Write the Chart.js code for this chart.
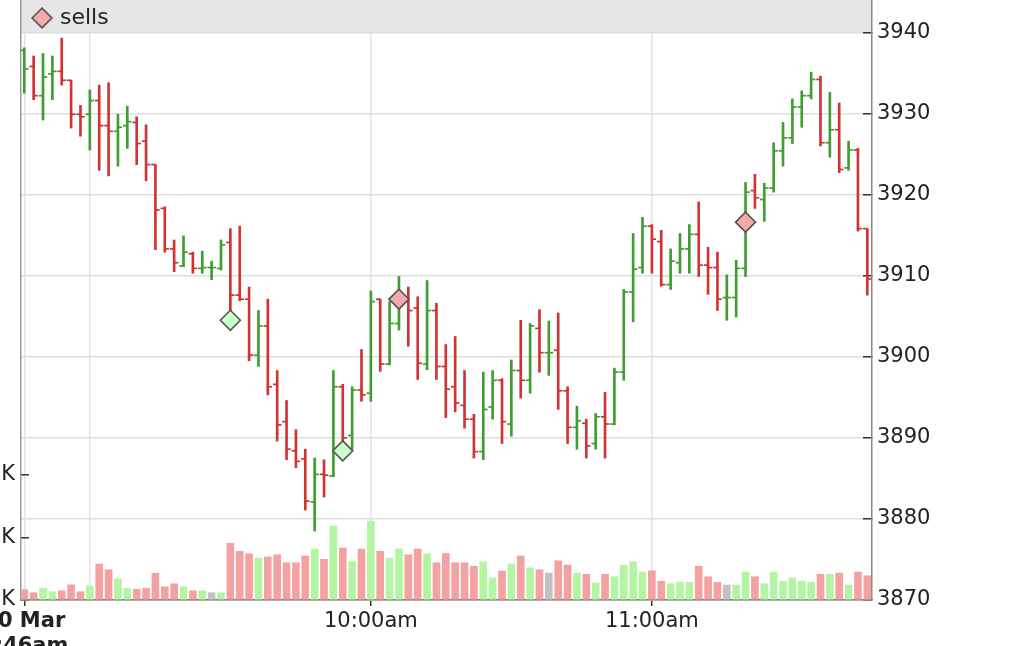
<!DOCTYPE html>
<html>
<head>
<meta charset="utf-8">
<script src="https://cdn.jsdelivr.net/npm/chart.js@4.4.1/dist/chart.umd.min.js"></script>
<style>
  html, body { margin: 0; padding: 0; background: #fff; }
  #wrap { width: 1016px; height: 646px; }
</style>
</head>
<body>
<div id="wrap"><canvas id="chart" width="1016" height="646"></canvas></div>
<script>
'use strict';

// 2-minute bars, 10 Mar 8:46am .. 11:46am
var open = [3937.8, 3935.8, 3932.2, 3934.9, 3935.2, 3934.1, 3929.9, 3929.9, 3931.6, 3928.5,
  3927.8, 3928.5, 3928.9, 3926.6, 3923.7, 3918.3, 3913.3, 3911.2, 3912.7, 3910.9,
  3911.0, 3910.9, 3914.1, 3907.6, 3907.1, 3900.2, 3903.8, 3896.6, 3892.0, 3888.4,
  3887.4, 3882.1, 3885.5, 3885.3, 3896.3, 3890.3, 3895.9, 3895.5, 3907.1, 3899.1,
  3904.1, 3907.1, 3906.0, 3899.1, 3905.7, 3898.8, 3896.3, 3894.0, 3892.3, 3888.3,
  3893.8, 3897.1, 3891.7, 3898.3, 3897.1, 3903.5, 3900.5, 3900.8, 3895.8, 3891.3,
  3891.8, 3889.3, 3892.6, 3891.7, 3898.1, 3908.0, 3911.0, 3916.1, 3914.2, 3908.9,
  3911.6, 3913.3, 3915.1, 3911.3, 3911.0, 3907.3, 3907.3, 3910.9, 3920.5, 3919.4,
  3920.8, 3925.4, 3927.0, 3930.8, 3932.2, 3934.2, 3926.4, 3928.0, 3923.3, 3925.5,
  3915.8];

var high = [3938.1, 3937.1, 3937.4, 3937.1, 3939.3, 3934.1, 3931.0, 3932.9, 3933.5, 3933.8,
  3929.9, 3930.9, 3929.6, 3928.6, 3923.7, 3918.5, 3914.4, 3914.9, 3912.9, 3913.0,
  3911.8, 3914.4, 3915.8, 3916.1, 3908.6, 3905.7, 3907.1, 3898.3, 3894.6, 3891.0,
  3888.6, 3887.5, 3887.3, 3898.3, 3896.6, 3896.3, 3900.9, 3908.1, 3907.1, 3906.8,
  3909.9, 3908.6, 3907.4, 3909.4, 3906.6, 3901.5, 3902.5, 3898.3, 3892.9, 3898.1,
  3898.3, 3897.3, 3899.6, 3904.5, 3904.1, 3905.8, 3904.4, 3905.4, 3896.3, 3893.9,
  3892.3, 3893.0, 3895.6, 3898.6, 3908.3, 3915.2, 3917.2, 3916.3, 3915.6, 3913.3,
  3915.2, 3916.3, 3919.1, 3913.5, 3912.9, 3910.1, 3911.9, 3921.5, 3922.5, 3921.4,
  3926.4, 3928.9, 3931.8, 3932.8, 3935.1, 3934.6, 3932.6, 3931.3, 3926.6, 3925.7,
  3915.8];

var low = [3932.5, 3931.7, 3929.2, 3931.7, 3933.5, 3928.2, 3927.2, 3925.5, 3923.0, 3922.3,
  3923.5, 3925.7, 3923.7, 3921.7, 3913.2, 3912.9, 3910.5, 3911.1, 3910.3, 3910.3,
  3909.5, 3910.7, 3905.7, 3906.9, 3899.5, 3898.8, 3895.3, 3889.6, 3887.3, 3886.3,
  3881.1, 3878.5, 3882.7, 3885.2, 3889.2, 3888.6, 3894.5, 3894.5, 3898.2, 3899.0,
  3903.3, 3901.3, 3897.2, 3898.4, 3897.2, 3892.5, 3893.2, 3891.2, 3887.5, 3887.3,
  3892.3, 3889.3, 3890.2, 3894.9, 3895.5, 3898.1, 3897.7, 3893.5, 3889.3, 3888.6,
  3887.5, 3888.6, 3887.5, 3891.6, 3897.1, 3904.3, 3910.3, 3910.3, 3908.7, 3908.3,
  3910.3, 3910.3, 3909.9, 3907.7, 3905.7, 3904.5, 3904.9, 3909.9, 3918.3, 3916.7,
  3920.3, 3923.5, 3926.3, 3928.3, 3931.8, 3926.0, 3924.6, 3922.7, 3923.0, 3915.5,
  3907.6];

var close = [3935.5, 3932.2, 3934.5, 3935.2, 3934.1, 3929.9, 3929.6, 3931.6, 3928.5, 3927.8,
  3928.3, 3929.0, 3926.3, 3923.7, 3918.1, 3913.3, 3911.6, 3912.9, 3910.9, 3911.0,
  3911.0, 3913.8, 3907.6, 3907.1, 3900.2, 3903.8, 3896.3, 3891.6, 3888.6, 3887.1,
  3882.2, 3885.5, 3885.4, 3896.3, 3890.0, 3895.9, 3895.3, 3906.8, 3899.1, 3904.1,
  3907.1, 3905.7, 3899.2, 3905.7, 3898.8, 3896.0, 3894.3, 3892.3, 3888.3, 3893.5,
  3897.1, 3892.0, 3898.3, 3897.1, 3903.8, 3900.5, 3900.5, 3895.8, 3891.3, 3892.1,
  3889.0, 3892.6, 3891.7, 3898.1, 3908.0, 3910.8, 3916.1, 3914.5, 3908.9, 3911.8,
  3913.3, 3915.1, 3911.3, 3911.0, 3907.1, 3907.3, 3910.9, 3920.3, 3919.6, 3920.8,
  3925.4, 3927.0, 3930.8, 3932.2, 3934.2, 3926.4, 3928.0, 3923.1, 3925.5, 3915.8,
  3909.6];

var volume = [820, 580, 940, 660, 740, 1220, 660, 1120, 2880, 2420,
  1680, 940, 860, 940, 2140, 1060, 1300, 1060, 740, 740,
  580, 580, 4540, 3900, 3700, 3340, 3440, 3620, 2980, 2980,
  3520, 4080, 3260, 5920, 4160, 3060, 4080, 6290, 3900, 3340,
  4080, 3620, 4080, 3700, 2980, 3720, 2980, 2980, 2700, 3060,
  1760, 2320, 2880, 3520, 2580, 2420, 2160, 3140, 2800, 2140,
  2060, 1380, 2060, 1860, 2780, 3060, 2240, 2340, 1500, 1300,
  1420, 1420, 2700, 1860, 1420, 1200, 1200, 2240, 1860, 1300,
  2240, 1500, 1760, 1500, 1420, 2060, 2060, 2160, 1200, 2240,
  1940];

// trade markers (bar index, price)
var buyIdx = [22, 34];
var buyPrice = [3904.5, 3888.4];
var sellIdx = [40, 77];
var sellPrice = [3907.1, 3916.6];

// axes
var xTickIndex = [0, 7, 37, 67];
var xTickLabels = [['10 Mar', '8:46am'], '', '10:00am', '11:00am'];
var priceTicks = [3870, 3880, 3890, 3900, 3910, 3920, 3930, 3940];
var volTicks = [0, 5000, 10000];

var GREEN = '#3f9e2f', RED = '#d03333';
var FONT = 'DejaVu Sans';
var tickShift = 0.22;

// bar colour follows close vs previous close, volume colour follows close vs open
var barColors = close.map(function(c, i) {
  return (i === 0 || c >= close[i - 1]) ? GREEN : RED;
});
var volColors = close.map(function(c, i) {
  if (c > open[i]) return '#b3f5a2';
  if (c < open[i]) return '#f3a1a1';
  return '#c2c2c2';
});

function toPoints(idx, vals, shift) {
  return vals.map(function(v, i) { return { x: (idx ? idx[i] : i) + (shift || 0), y: v }; });
}

var legendBand = {
  id: 'legendBand',
  beforeDraw: function(chart) {
    var a = chart.chartArea, ctx = chart.ctx;
    ctx.save();
    ctx.fillStyle = '#e6e6e6';
    ctx.fillRect(a.left, a.top, a.right - a.left, 32);
    ctx.restore();
    chart.legend.left = a.left + 7;
  }
};

var baseFont = { family: FONT, size: 21 };

new Chart(document.getElementById('chart'), {
  type: 'bar',
  data: {
    datasets: [
      {
        type: 'scatter', label: 'sells', order: 0, yAxisID: 'y',
        data: toPoints(sellIdx, sellPrice),
        pointStyle: 'rectRot', pointRadius: 10,
        backgroundColor: '#f4aaaa', borderColor: '#555', borderWidth: 1.6
      },
      {
        type: 'scatter', label: 'buys', order: 0, yAxisID: 'y',
        data: toPoints(buyIdx, buyPrice),
        pointStyle: 'rectRot', pointRadius: 10,
        backgroundColor: '#ccffcc', borderColor: '#555', borderWidth: 1.6
      },
      {
        type: 'scatter', label: 'open', order: 1, yAxisID: 'y',
        data: toPoints(null, open, -tickShift),
        pointStyle: 'line', pointRadius: 2.2,
        pointBorderColor: barColors, pointBorderWidth: 1.7
      },
      {
        type: 'scatter', label: 'close', order: 1, yAxisID: 'y',
        data: toPoints(null, close, tickShift),
        pointStyle: 'line', pointRadius: 2.2,
        pointBorderColor: barColors, pointBorderWidth: 1.7
      },
      {
        type: 'bar', label: 'range', order: 2, yAxisID: 'y', grouped: false,
        data: low.map(function(l, i) { return { x: i, y: [l, high[i]] }; }),
        backgroundColor: barColors, barThickness: 2, borderWidth: 0
      },
      {
        type: 'bar', label: 'volume', order: 3, yAxisID: 'vol', grouped: false,
        data: toPoints(null, volume),
        backgroundColor: volColors, barThickness: 7, borderWidth: 0
      }
    ]
  },
  options: {
    responsive: false,
    animation: false,
    events: [],
    layout: { padding: 0, autoPadding: false },
    plugins: {
      tooltip: { enabled: false },
      legend: {
        position: 'chartArea',
        align: 'start',
        labels: {
          usePointStyle: true, boxWidth: 14, boxHeight: 14, padding: 7,
          color: '#222', font: { family: FONT, size: 22 },
          filter: function(item) { return item.text === 'sells'; }
        }
      }
    },
    scales: {
      x: {
        type: 'linear', min: -0.35, max: 90.5, offset: false,
        afterBuildTicks: function(axis) {
          axis.ticks = xTickIndex.map(function(v) { return { value: v }; });
        },
        ticks: {
          autoSkip: false, maxRotation: 0, minRotation: 0, padding: 3, color: '#222',
          font: function(ctx) {
            return ctx.index === 0 ? { family: FONT, size: 21, weight: 'bold' } : baseFont;
          },
          callback: function(value, index) { return xTickLabels[index]; }
        },
        grid: {
          offset: false, color: '#e3e3e3', lineWidth: 1.5, tickLength: 6,
          tickColor: function(ctx) { return xTickLabels[ctx.index] === '' ? 'rgba(0,0,0,0)' : '#333'; }
        },
        border: { color: '#777', width: 1.5 },
        afterFit: function(axis) { axis.height = 46; axis.paddingLeft = 0; axis.paddingRight = 0; }
      },
      y: {
        position: 'right', min: 3870, max: 3944,
        afterBuildTicks: function(axis) {
          axis.ticks = priceTicks.map(function(v) { return { value: v }; });
        },
        ticks: {
          padding: 14, color: '#222', font: baseFont,
          callback: function(v) { return String(v); }
        },
        grid: { color: '#dedede', lineWidth: 1.5, tickLength: -9, tickColor: '#333' },
        border: { color: '#888', width: 1.5 },
        afterFit: function(axis) { axis.width = 144; axis.paddingTop = 0; axis.paddingBottom = 0; }
      },
      vol: {
        position: 'left', min: 0, max: 48000,
        afterBuildTicks: function(axis) {
          axis.ticks = volTicks.map(function(v) { return { value: v }; });
        },
        ticks: {
          padding: 14, color: '#222', font: baseFont,
          callback: function(v) { return (v / 1000) + 'K'; }
        },
        grid: { drawOnChartArea: false, lineWidth: 1.5, tickLength: -8, tickColor: '#333' },
        border: { color: '#999', width: 1.5 },
        afterFit: function(axis) { axis.width = 21; axis.paddingTop = 0; axis.paddingBottom = 0; }
      }
    }
  },
  plugins: [legendBand]
});
</script>
</body>
</html>
